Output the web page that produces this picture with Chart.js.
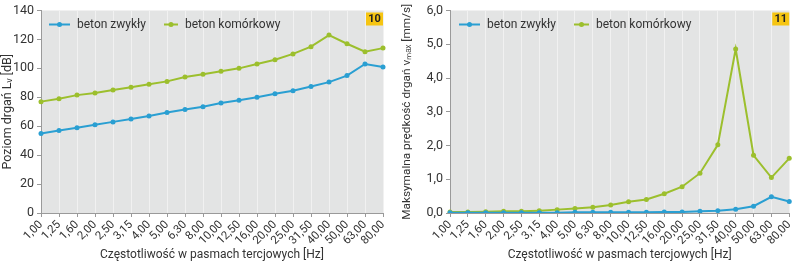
<!DOCTYPE html>
<html>
<head>
<meta charset="utf-8">
<script src="https://cdn.jsdelivr.net/npm/chart.js@4"></script>
<style>
  html, body { margin: 0; padding: 0; background: #fff; }
  .wrap { display: flex; width: 800px; height: 264px; }
  canvas { display: block; }
</style>
</head>
<body>
<div class="wrap">
  <canvas id="c10" width="400" height="264"></canvas>
  <canvas id="c11" width="400" height="264"></canvas>
</div>
<script>
// ---------------------------------------------------------------------------
// Data
// ---------------------------------------------------------------------------

const freqLabels = ['1,00', '1,25', '1,60', '2,00', '2,50', '3,15', '4,00', '5,00', '6,30', '8,00',
  '10,00', '12,50', '16,00', '20,00', '25,00', '31,50', '40,00', '50,00', '63,00', '80,00'];

// Fig. 10 – poziom drgań Lv [dB]
const levelZwykly = [55, 57, 59, 61, 63, 65, 67, 69.5, 71.5, 73.5, 76, 78, 80, 82.5, 84.5, 87.5, 90.5, 95, 103, 101];
const levelKomorkowy = [77, 79, 81.5, 83, 85, 87, 89, 91, 94, 96, 98, 100, 103, 106, 110, 115, 123, 117, 111.5, 114];

// Fig. 11 – maksymalna prędkość drgań vmax [mm/s]
const velZwykly = [0.01, 0.01, 0.01, 0.01, 0.01, 0.01, 0.01, 0.02, 0.02, 0.02, 0.02, 0.02, 0.03, 0.03, 0.05, 0.07, 0.11, 0.2, 0.48, 0.34];
const velKomorkowy = [0.03, 0.03, 0.04, 0.05, 0.05, 0.07, 0.1, 0.13, 0.17, 0.24, 0.33, 0.4, 0.57, 0.78, 1.18, 2.02, 4.86, 1.71, 1.05, 1.62];

const BLUE = '#2a9fd2';
const GREEN = '#9cbf2d';
const FONT = 'Roboto, "Liberation Sans", sans-serif';
const TEXT = '#333';

// ---------------------------------------------------------------------------
// Plugin: plot background, legend inside plot, figure number badge
// ---------------------------------------------------------------------------

const decorPlugin = {
  id: 'decor',
  beforeDraw(chart) {
    const a = chart.chartArea, ctx = chart.ctx;
    ctx.save();
    ctx.fillStyle = '#e3e4e4';
    ctx.fillRect(a.left, a.top, a.right - a.left, a.bottom - a.top);
    ctx.restore();
  },
  afterDraw(chart, args, opts) {
    const a = chart.chartArea, ctx = chart.ctx;
    ctx.save();
    // legend
    ctx.font = '12px ' + FONT;
    ctx.textBaseline = 'middle';
    let x = a.left + opts.legendX;
    const y = a.top + 14;
    chart.data.datasets.forEach((ds, i) => {
      const w = opts.lineW[i];
      ctx.strokeStyle = ds.borderColor;
      ctx.lineWidth = 2;
      ctx.beginPath(); ctx.moveTo(x, y); ctx.lineTo(x + w, y); ctx.stroke();
      ctx.fillStyle = ds.borderColor;
      ctx.beginPath(); ctx.arc(x + w / 2, y, 2.5, 0, Math.PI * 2); ctx.fill();
      ctx.fillStyle = TEXT;
      ctx.fillText(ds.label, x + w + 7, y);
      x += w + 7 + ctx.measureText(ds.label).width + 18;
    });
    // badge
    const bw = 17, bh = 13;
    ctx.fillStyle = '#f6c512';
    ctx.fillRect(a.right - bw, a.top + 2, bw, bh);
    ctx.fillStyle = '#222';
    ctx.font = 'bold 11px ' + FONT;
    ctx.textAlign = 'center';
    ctx.fillText(opts.badge, a.right - bw / 2, a.top + 2 + bh / 2 + 0.5);
    ctx.restore();
  }
};

function makeChart(id, dsA, dsB, yOpts, yTitle, layout) {
  return new Chart(document.getElementById(id), {
    type: 'line',
    data: {
      labels: freqLabels,
      datasets: [
        { label: 'beton zwykły', data: dsA, borderColor: BLUE, backgroundColor: BLUE,
          borderWidth: 2, pointRadius: 2.5, pointBorderWidth: 0, tension: 0 },
        { label: 'beton komórkowy', data: dsB, borderColor: GREEN, backgroundColor: GREEN,
          borderWidth: 2, pointRadius: 2.5, pointBorderWidth: 0, tension: 0 },
      ]
    },
    options: {
      responsive: false,
      animation: false,
      devicePixelRatio: 1,
      layout: { padding: { top: layout.top, right: layout.right, left: 0, bottom: 0 } },
      plugins: {
        legend: { display: false },
        tooltip: { enabled: false },
        decor: { badge: layout.badge, legendX: layout.legendX, lineW: layout.lineW },
      },
      scales: {
        x: {
          offset: false,
          grid: { color: '#f1f1f1', lineWidth: 1, tickColor: '#999', tickLength: 4 },
          border: { color: '#9a9a9a' },
          ticks: { color: TEXT, font: { family: FONT, size: 11.5 }, minRotation: 45, maxRotation: 45, autoSkip: false, padding: 1 },
          title: { display: true, text: 'Częstotliwość w pasmach tercjowych [Hz]', color: TEXT,
                   font: { family: FONT, size: 12 }, padding: { top: 2, bottom: 2 } },
          afterFit: s => { s.height = layout.xH; },
        },
        y: Object.assign({
          grid: { drawOnChartArea: false, tickColor: '#999', tickLength: 4 },
          border: { color: '#9a9a9a' },
          title: { display: true, text: yTitle, color: TEXT, font: { family: FONT, size: layout.yTitleSize }, padding: { top: 0, bottom: 2 } },
          afterFit: s => { s.width = layout.yW; },
        }, yOpts),
      }
    },
    plugins: [decorPlugin]
  });
}

makeChart('c10', levelZwykly, levelKomorkowy,
  { min: 0, max: 140, ticks: { stepSize: 20, color: TEXT, font: { family: FONT, size: 12.5 }, padding: 3 } },
  'Poziom drgań Lᵥ [dB]',
  { top: 6, right: 17, xH: 51, yW: 41, badge: '10', legendX: 8, lineW: [21, 14], yTitleSize: 12.5 });

makeChart('c11', velZwykly, velKomorkowy,
  { min: 0, max: 6, ticks: { stepSize: 1, color: TEXT, font: { family: FONT, size: 12.5 }, padding: 3,
      callback: v => v.toFixed(1).replace('.', ',') } },
  'Maksymalna prędkość drgań vₘₐₓ [mm/s]',
  { top: 6, right: 7, xH: 51, yW: 50, badge: '11', legendX: 9, lineW: [21, 15], yTitleSize: 11.8 });
</script>
</body>
</html>
